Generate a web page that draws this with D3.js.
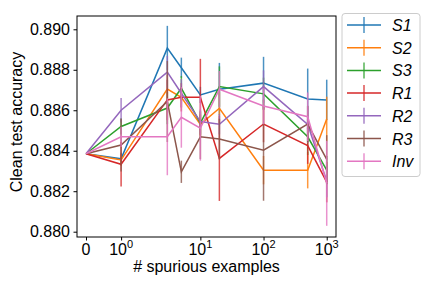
<!DOCTYPE html>
<html>
<head>
<meta charset="utf-8">
<script src="https://cdn.jsdelivr.net/npm/d3@7"></script>
<style>
  body { margin: 0; background: #fff; }
  text { font-family: "Liberation Sans", Arial, sans-serif; }
</style>
</head>
<body>
<script>
// number of spurious examples (x positions)
var xValues = [0, 1, 3, 5, 10, 20, 100, 500, 1000];

var seriesNames = ["S1", "S2", "S3", "R1", "R2", "R3", "Inv"];
var seriesColors = ["#1f77b4", "#ff7f0e", "#2ca02c", "#d62728", "#9467bd", "#8c564b", "#e377c2"];

// mean clean test accuracy per series
var s1 = [0.88385, 0.8836, 0.88907, 0.8881, 0.88676, 0.88704, 0.88734, 0.88656, 0.88651];
var s2 = [0.88385, 0.88354, 0.88705, 0.88664, 0.8853, 0.8861, 0.88304, 0.88304, 0.88557];
var s3 = [0.88385, 0.8852, 0.88611, 0.88709, 0.88536, 0.88717, 0.88681, 0.88469, 0.88304];
var r1 = [0.88385, 0.88333, 0.88651, 0.88664, 0.88664, 0.88362, 0.88532, 0.88425, 0.88245];
var r2 = [0.88385, 0.886, 0.88788, 0.88684, 0.88544, 0.88531, 0.88717, 0.8853, 0.8825];
var r3 = [0.88385, 0.88428, 0.88643, 0.88296, 0.88469, 0.88458, 0.88403, 0.88532, 0.88357];
var inv = [0.88385, 0.88469, 0.88469, 0.88565, 0.88511, 0.88704, 0.88621, 0.88568, 0.88239];

// error bar half-widths
var s1Err = [0, 0.0003, 0.0011, 0.0005, 0.0004, 0.0013, 0.0013, 0.0015, 0.001];
var s2Err = [0, 0.0003, 0.0007, 0.0005, 0.0006, 0.0008, 0.0007, 0.0009, 0.0011];
var s3Err = [0, 0.0004, 0.0008, 0.0006, 0.0006, 0.001, 0.0008, 0.0009, 0.0007];
var r1Err = [0, 0.0011, 0.001, 0.0007, 0.0019, 0.0021, 0.0009, 0.0009, 0.001];
var r2Err = [0, 0.0006, 0.0008, 0.0007, 0.0006, 0.0005, 0.0008, 0.0009, 0.0008];
var r3Err = [0, 0.0013, 0.002, 0.00055, 0.0011, 0.001, 0.0025, 0.0009, 0.0012];
var invErr = [0, 0.0005, 0.0019, 0.0015, 0.0016, 0.0009, 0.0009, 0.0012, 0.0021];

var yTicks = [0.880, 0.882, 0.884, 0.886, 0.888, 0.890];
var xTicks = [0, 1, 10, 100, 1000];
var xTickExp = ["", "0", "1", "2", "3"];

var allMeans = [s1, s2, s3, r1, r2, r3, inv];
var allErrs = [s1Err, s2Err, s3Err, r1Err, r2Err, r3Err, invErr];

// matplotlib-like symlog, linthresh 2, base 10
function symlog(v) {
  var linthresh = 2, linscale = 1 / (1 - 1 / 10);
  var a = Math.abs(v) / linthresh;
  return Math.sign(v) * (a <= 1 ? a * linscale : linscale + Math.log10(a));
}

var margin = { top: 16, left: 77, right: 96, bottom: 51 },
  width = 432 - margin.left - margin.right,
  height = 288 - margin.top - margin.bottom;

var xs = d3.scaleLinear().domain([-0.1425, 3.957]).range([0, width]);
function x(v) { return xs(symlog(v)); }
var y = d3.scaleLinear().domain([0.879738, 0.890657]).range([height, 0]);

var svg = d3
  .select("body")
  .append("svg")
  .attr("width", 432)
  .attr("height", 288);

var g = svg
  .append("g")
  .attr("transform", "translate(" + margin.left + "," + margin.top + ")");

var line = d3
  .line()
  .x(function(d) { return x(d.x); })
  .y(function(d) { return y(d.v); });

// each series: error bars first, then the line
for (var i = 0; i < seriesNames.length; i++) {
  var pts = xValues.map(function(xv, j) {
    return { x: xv, v: allMeans[i][j], e: allErrs[i][j] };
  });
  g.selectAll(".bar" + i)
    .data(pts.filter(function(d) { return d.e > 0; }))
    .enter()
    .append("line")
    .attr("x1", function(d) { return x(d.x); })
    .attr("x2", function(d) { return x(d.x); })
    .attr("y1", function(d) { return y(d.v - d.e); })
    .attr("y2", function(d) { return y(d.v + d.e); })
    .attr("stroke", seriesColors[i])
    .attr("stroke-opacity", 0.8)
    .attr("stroke-width", 1.5);
  g.append("path")
    .datum(pts)
    .attr("d", line)
    .attr("fill", "none")
    .attr("stroke", seriesColors[i])
    .attr("stroke-width", 1.5);
}

// frame
g.append("rect")
  .attr("width", width)
  .attr("height", height)
  .attr("fill", "none")
  .attr("stroke", "#000")
  .attr("stroke-width", 1);

// y axis
var yAxis = g.append("g")
  .call(d3.axisLeft(y).tickValues(yTicks).tickFormat(d3.format(".3f")).tickSize(3.5).tickPadding(3.5));
yAxis.select(".domain").remove();
yAxis.selectAll("text").attr("font-size", 16).attr("fill", "#000").attr("font-family", "Liberation Sans, Arial, sans-serif");

// x axis with superscript labels
var xAxis = g.append("g")
  .attr("transform", "translate(0," + height + ")")
  .call(d3.axisBottom(xs).tickValues(xTicks.map(symlog)).tickFormat("").tickSize(3.5));
xAxis.select(".domain").remove();

var xLabels = g.selectAll(".xlab")
  .data(xTicks)
  .enter()
  .append("text")
  .attr("x", function(d) { return x(d); })
  .attr("y", height + 18)
  .attr("text-anchor", "middle")
  .attr("font-size", 16);
xLabels.append("tspan").text(function(d) { return d === 0 ? "0" : "10"; });
xLabels.append("tspan")
  .attr("dy", -7)
  .attr("font-size", 11)
  .text(function(d, i) { return xTickExp[i]; });

// axis titles
svg.append("text")
  .attr("x", margin.left + width / 2)
  .attr("y", 272)
  .attr("text-anchor", "middle")
  .attr("font-size", 16)
  .text("# spurious examples");

svg.append("text")
  .attr("transform", "translate(22,122) rotate(-90)")
  .attr("text-anchor", "middle")
  .attr("font-size", 16)
  .text("Clean test accuracy");

// legend
var legend = svg.append("g").attr("transform", "translate(342,13.5)");
legend.append("rect")
  .attr("width", 78)
  .attr("height", 163)
  .attr("rx", 3)
  .attr("fill", "#fff")
  .attr("fill-opacity", 0.8)
  .attr("stroke", "#ccc");

var items = legend.selectAll(".item")
  .data(seriesNames)
  .enter()
  .append("g")
  .attr("transform", function(d, i) { return "translate(0," + (11.5 + i * 22.7) + ")"; });
items.append("line")
  .attr("x1", 5).attr("x2", 39)
  .attr("stroke", function(d, i) { return seriesColors[i]; })
  .attr("stroke-width", 1.5);
items.append("line")
  .attr("x1", 22).attr("x2", 22)
  .attr("y1", -8).attr("y2", 8)
  .attr("stroke", function(d, i) { return seriesColors[i]; })
  .attr("stroke-opacity", 0.8)
  .attr("stroke-width", 1.5);
items.append("text")
  .attr("x", 50)
  .attr("y", 6)
  .attr("font-size", 16)
  .attr("font-style", "italic")
  .text(function(d) { return d; });
</script>
</body>
</html>
